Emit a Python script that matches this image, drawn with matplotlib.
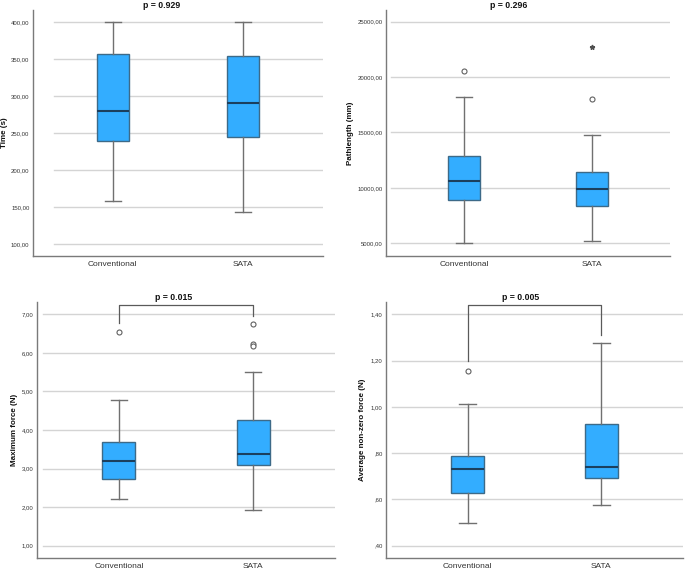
import matplotlib
matplotlib.use("Agg")
import matplotlib.pyplot as plt
from matplotlib.ticker import FuncFormatter

plt.rcParams['font.family'] = ['Liberation Sans', 'DejaVu Sans']

groups = ["Conventional", "SATA"]

# Panel 1: Time (s)
time_whislo = [158, 144]
time_q1 = [239, 245]
time_med = [280, 290]
time_q3 = [357, 354]
time_whishi = [400, 400]
time_fliers = [[], []]
time_extremes = [[], []]

# Panel 2: Pathlength (mm)
path_whislo = [5000, 5210]
path_q1 = [8915, 8350]
path_med = [10660, 9880]
path_q3 = [12860, 11470]
path_whishi = [18240, 14750]
path_fliers = [[20580], [18050]]
path_extremes = [[], [22720]]

# Panel 3: Maximum force (N)
maxf_whislo = [2.22, 1.93]
maxf_q1 = [2.72, 3.08]
maxf_med = [3.20, 3.38]
maxf_q3 = [3.68, 4.27]
maxf_whishi = [4.78, 5.50]
maxf_fliers = [[6.55], [6.75, 6.22, 6.18]]
maxf_extremes = [[], []]

# Panel 4: Average non-zero force (N)
avgf_whislo = [0.499, 0.576]
avgf_q1 = [0.626, 0.691]
avgf_med = [0.731, 0.741]
avgf_q3 = [0.786, 0.924]
avgf_whishi = [1.014, 1.275]
avgf_fliers = [[1.155], []]
avgf_extremes = [[], []]

panels = [
    dict(label="Time (s)", title="p = 0.929",
         stats=(time_whislo, time_q1, time_med, time_q3, time_whishi, time_fliers, time_extremes),
         ticks=[100, 150, 200, 250, 300, 350, 400], ylim=(84, 416),
         rect=[33, 10, 323, 256], title_x=0.445, ylab_px=28, grid_px=21, bracket=None),
    dict(label="Pathlength (mm)", title="p = 0.296",
         stats=(path_whislo, path_q1, path_med, path_q3, path_whishi, path_fliers, path_extremes),
         ticks=[5000, 10000, 15000, 20000, 25000], ylim=(3854, 26055),
         rect=[386, 10, 670, 256], title_x=0.433, ylab_px=35, grid_px=5, bracket=None),
    dict(label="Maximum force (N)", title="p = 0.015",
         stats=(maxf_whislo, maxf_q1, maxf_med, maxf_q3, maxf_whishi, maxf_fliers, maxf_extremes),
         ticks=[1, 2, 3, 4, 5, 6, 7], ylim=(0.68, 7.32),
         rect=[37, 302, 335, 558], title_x=0.458, ylab_px=22, grid_px=6,
         bracket=(7.24, 6.77, 6.96)),
    dict(label="Average non-zero force (N)", title="p = 0.005",
         stats=(avgf_whislo, avgf_q1, avgf_med, avgf_q3, avgf_whishi, avgf_fliers, avgf_extremes),
         ticks=[0.4, 0.6, 0.8, 1.0, 1.2, 1.4], ylim=(0.347, 1.453),
         rect=[386, 302, 683, 558], title_x=0.453, ylab_px=23, grid_px=6,
         bracket=(1.44, 1.20, 1.31)),
]

W, H = 685, 572
fig = plt.figure(figsize=(W / 100, H / 100), dpi=100)

def spss_fmt(v, pos):
    s = f"{v:.2f}".replace(".", ",")
    if s.startswith("0,"):
        s = s[1:]
    return s

box_fill = "#33ADFF"
box_edge = "#3D6A88"
med_col = "#1B3F5E"
whisk_col = "#707070"
grid_col = "#D4D4D4"
spine_col = "#7A7A7A"

pos = [0, 1]
bw = 0.245

for p in panels:
    x0, y0, x1, y1 = p["rect"]
    ax = fig.add_axes([x0 / W, (H - y1) / H, (x1 - x0) / W, (y1 - y0) / H])
    wl, q1, md, q3, wh, fl, ex = p["stats"]
    stats = []
    for i in range(2):
        stats.append(dict(whislo=wl[i], q1=q1[i], med=md[i], q3=q3[i], whishi=wh[i], fliers=fl[i]))
    ax.set_xlim(-0.61, 1.61)
    ax.set_ylim(*p["ylim"])
    gx = p["grid_px"] / (x1 - x0)
    for t in p["ticks"]:
        ax.axhline(t, xmin=gx, xmax=1, color=grid_col, lw=1.0, zorder=0)
    ax.bxp(stats, positions=pos, widths=bw, capwidths=bw / 2, patch_artist=True,
           showfliers=True,
           boxprops=dict(facecolor=box_fill, edgecolor=box_edge, linewidth=1.0),
           medianprops=dict(color=med_col, linewidth=1.5),
           whiskerprops=dict(color=whisk_col, linewidth=1.0),
           capprops=dict(color=whisk_col, linewidth=1.0),
           flierprops=dict(marker='o', markersize=3.6, markerfacecolor='white',
                           markeredgecolor='#606060', markeredgewidth=0.8),
           zorder=2)
    for i in range(2):
        if ex[i]:
            ax.plot([pos[i]] * len(ex[i]), ex[i], linestyle='none', marker='*',
                    markersize=3.5, color='#505050', zorder=3)
    ax.set_yticks(p["ticks"])
    ax.yaxis.set_major_formatter(FuncFormatter(spss_fmt))
    ax.set_xticks(pos)
    ax.set_xticklabels(groups)
    ax.tick_params(axis='y', length=0, pad=2.5, labelsize=4.3, labelcolor='#333333')
    ax.tick_params(axis='x', length=0, pad=3.5, labelsize=6.0, labelcolor='#333333')
    for s in ["top", "right"]:
        ax.spines[s].set_visible(False)
    for s in ["left", "bottom"]:
        ax.spines[s].set_color(spine_col)
        ax.spines[s].set_linewidth(1.0)
    ax.set_ylabel(p["label"], fontsize=5.8, fontweight='bold', va='center', color='#111111')
    ax.yaxis.set_label_coords(-p["ylab_px"] / (x1 - x0), 0.5)
    ax.text(p["title_x"], 1.0 + 5 / (y1 - y0), p["title"], transform=ax.transAxes,
            ha='center', va='center', fontsize=6.3, fontweight='bold', color='#111111')
    if p["bracket"] is not None:
        top, l0, l1 = p["bracket"]
        ax.plot([pos[0], pos[0], pos[1], pos[1]], [l0, top, top, l1], color='#5A5A5A',
                lw=0.9, clip_on=False, zorder=4)

fig.savefig("out.png", dpi=100, facecolor='white')
